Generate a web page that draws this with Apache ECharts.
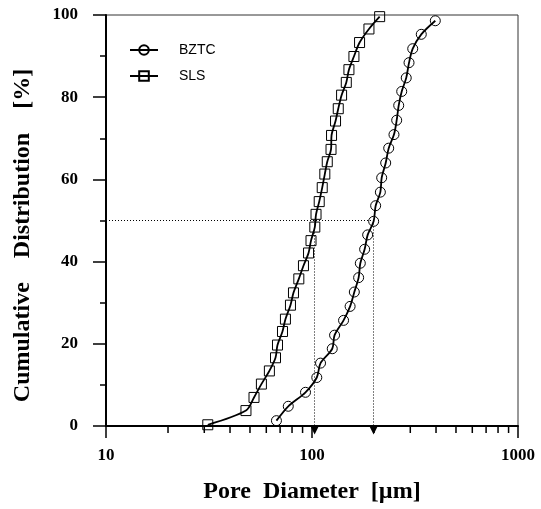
<!DOCTYPE html>
<html>
<head>
<meta charset="utf-8">
<script src="https://cdn.jsdelivr.net/npm/echarts@6/dist/echarts.min.js"></script>
<style>html,body{margin:0;padding:0;background:#fff}#c{width:541px;height:509px}</style>
</head>
<body>
<div id="c"></div>
<script>
const slsDiameter = [31.2, 47.8, 52.3, 56.8, 62.1, 66.5, 68.0, 71.9, 74.3, 78.6, 81.3, 86.3, 90.9, 96.2, 98.9, 103.2, 104.6, 108.4, 112.1, 115.4, 118.6, 123.7, 124.4, 130.1, 134.1, 139.2, 146.7, 151.1, 159.8, 170.2, 189.0, 213.0];
const slsCumulative = [0.3, 3.75, 6.95, 10.2, 13.4, 16.6, 19.7, 23.0, 26.0, 29.4, 32.4, 35.8, 39.0, 42.1, 45.1, 48.4, 51.5, 54.6, 58.0, 61.3, 64.3, 67.3, 70.7, 74.2, 77.2, 80.5, 83.6, 86.7, 89.9, 93.3, 96.6, 99.6];
const bztcDiameter = [67.2, 76.7, 93.0, 105.5, 110.0, 125.4, 128.7, 142.3, 153.1, 160.5, 168.4, 171.6, 180.1, 186.3, 199.2, 203.7, 214.7, 217.9, 227.9, 235.7, 250.0, 257.7, 263.6, 272.6, 286.7, 295.8, 308.3, 339.2, 396.8];
const bztcCumulative = [1.3, 4.8, 8.2, 11.8, 15.3, 18.8, 22.1, 25.7, 29.1, 32.6, 36.1, 39.6, 43.0, 46.5, 49.8, 53.6, 56.9, 60.4, 64.0, 67.6, 70.9, 74.4, 78.0, 81.4, 84.7, 88.4, 91.8, 95.3, 98.6];
const slsD50 = 103;
const bztcD50 = 199;
const medianLevel = 50;
const xMinorTicks = [20, 30, 40, 50, 60, 70, 80, 90, 200, 300, 400, 500, 600, 700, 800, 900];
const seriesNames = ['BZTC', 'SLS'];

const serif = '"Liberation Serif", "Times New Roman", serif';
const chart = echarts.init(document.getElementById('c'));
const zip = (a, b) => a.map((v, i) => [v, b[i]]);
const hollow = { color: 'rgba(255,255,255,0)', borderColor: '#000', borderWidth: 1 };

chart.setOption({
  animation: false,
  grid: { left: 106, right: 23, top: 15, bottom: 81, show: true, borderColor: '#333', borderWidth: 1, backgroundColor: 'transparent' },
  legend: {
    orient: 'vertical', left: 124, top: 38, itemGap: 12, itemWidth: 28, itemHeight: 12,
    data: seriesNames,
    textStyle: { fontFamily: 'Liberation Sans, Arial, sans-serif', fontSize: 14, color: '#000', padding: [0, 0, 0, 16] }
  },
  xAxis: {
    type: 'log', logBase: 10, min: 10, max: 1000,
    name: 'Pore  Diameter  [µm]', nameLocation: 'middle', nameGap: 54,
    nameTextStyle: { fontFamily: serif, fontWeight: 'bold', fontSize: 24, color: '#000' },
    axisLine: { lineStyle: { color: '#000', width: 2 } },
    axisTick: { length: 12, lineStyle: { color: '#000', width: 1.5 } },
    axisLabel: { margin: 21, fontFamily: serif, fontWeight: 'bold', fontSize: 17, color: '#000', formatter: v => String(v) },
    splitLine: { show: false }
  },
  yAxis: {
    type: 'value', min: 0, max: 100, interval: 20,
    name: 'Cumulative    Distribution    [%]', nameLocation: 'middle', nameGap: 71,
    nameTextStyle: { fontFamily: serif, fontWeight: 'bold', fontSize: 24, color: '#000', padding: [0, 30, 0, 0] },
    axisLine: { lineStyle: { color: '#000', width: 2 } },
    axisTick: { length: 13, lineStyle: { color: '#000', width: 1.5 } },
    minorTick: { show: true, splitNumber: 2, length: 6, lineStyle: { color: '#000', width: 1.5 } },
    axisLabel: { margin: 28, fontFamily: serif, fontWeight: 'bold', fontSize: 17, color: '#000' },
    splitLine: { show: false }
  },
  series: [
    {
      name: 'BZTC', type: 'line', smooth: 0.3,
      data: zip(bztcDiameter, bztcCumulative),
      symbol: 'circle', symbolSize: 10, showAllSymbol: true,
      lineStyle: { color: '#000', width: 1.8 }, itemStyle: hollow, z: 3
    },
    {
      name: 'SLS', type: 'line', smooth: 0.3,
      data: zip(slsDiameter, slsCumulative),
      symbol: 'rect', symbolSize: 10, showAllSymbol: true,
      lineStyle: { color: '#000', width: 1.8 }, itemStyle: hollow, z: 3
    },
    {
      name: 'guides', type: 'line', data: [], silent: true,
      markLine: {
        silent: true, animation: false,
        label: { show: false },
        lineStyle: { color: '#000', type: [1, 2], width: 1 },
        data: [
          [{ coord: [10, medianLevel], symbol: 'none' }, { coord: [bztcD50, medianLevel], symbol: 'none' }],
          [{ coord: [slsD50, medianLevel], symbol: 'none' }, { coord: [slsD50, 0], symbol: 'triangle', symbolSize: [9, 9], symbolRotate: 180, symbolOffset: [0, -4] }],
          [{ coord: [bztcD50, medianLevel], symbol: 'none' }, { coord: [bztcD50, 0], symbol: 'triangle', symbolSize: [9, 9], symbolRotate: 180, symbolOffset: [0, -4] }]
        ]
      }
    },
    {
      name: 'minorTicks', type: 'custom', silent: true, clip: false,
      data: xMinorTicks.map(v => [v, 0]),
      renderItem: function (params, api) {
        const p = api.coord([api.value(0), 0]);
        return { type: 'line', shape: { x1: p[0], y1: p[1], x2: p[0], y2: p[1] + 7 }, style: { stroke: '#000', lineWidth: 1.5 } };
      }
    }
  ]
});
</script>
</body>
</html>
